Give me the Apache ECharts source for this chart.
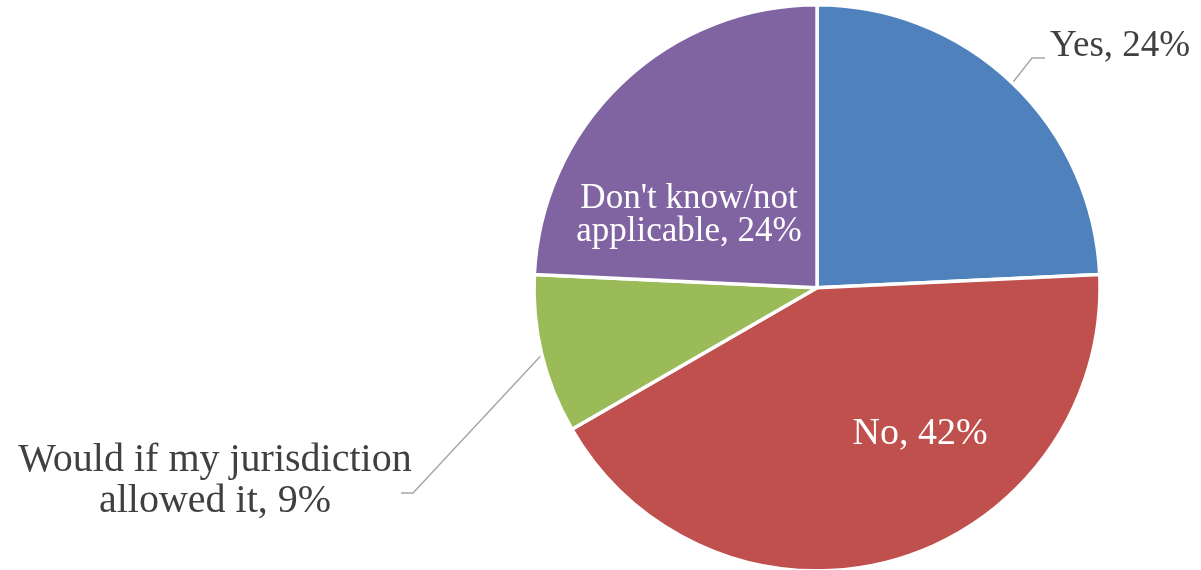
<!DOCTYPE html>
<html>
<head>
<meta charset="utf-8">
<script src="https://cdn.jsdelivr.net/npm/echarts@6/dist/echarts.min.js"></script>
<style>
html,body{margin:0;padding:0;background:#fff;}
#chart{width:1201px;height:570px;}
</style>
</head>
<body>
<div id="chart"></div>
<script>
var categories = ['Yes', 'No', 'Would if my jurisdiction\nallowed it', "Don't know/not\napplicable"];
var values = [24, 42, 9, 24];
var colors = ['#4F81BD', '#C0504D', '#9BBB59', '#8064A2'];

var labelStyles = [
  {position: 'outside', color: '#404040', fontSize: 37, lineHeight: 38},
  {position: 'inside', color: '#ffffff', fontSize: 38, lineHeight: 38},
  {position: 'outside', color: '#404040', fontSize: 40, lineHeight: 41},
  {position: 'inside', color: '#ffffff', fontSize: 35, lineHeight: 33}
];
// label placement (layout only)
var labelPlace = [
  {x: 1050, y: 46, align: 'left', line: [[1032, 58], [1045, 58]]},
  {x: 920, y: 434, align: 'center'},
  {x: 215, y: 481, align: 'center', line: [[413, 493], [401, 493]]},
  {x: 689, y: 215, align: 'center'}
];

var data = categories.map(function (name, i) {
  return {
    name: name,
    value: values[i],
    itemStyle: {color: colors[i]},
    label: {
      position: labelStyles[i].position,
      color: labelStyles[i].color,
      fontSize: labelStyles[i].fontSize,
      lineHeight: labelStyles[i].lineHeight
    }
  };
});

var chart = echarts.init(document.getElementById('chart'), null, {renderer: 'canvas'});
chart.setOption({
  animation: false,
  backgroundColor: '#ffffff',
  series: [{
    type: 'pie',
    center: ['68.03%', '50.5%'],
    radius: 283,
    startAngle: 90,
    clockwise: true,
    avoidLabelOverlap: false,
    itemStyle: {borderColor: '#ffffff', borderWidth: 3.5},
    label: {
      show: true,
      fontFamily: 'Liberation Serif',
      formatter: '{b}, {c}%'
    },
    labelLine: {
      show: true,
      lineStyle: {color: '#a6a6a6', width: 1.4}
    },
    labelLayout: function (params) {
      var p = labelPlace[params.dataIndex];
      var res = {x: p.x, y: p.y, align: p.align, verticalAlign: 'middle'};
      if (p.line && params.labelLinePoints) {
        res.labelLinePoints = [params.labelLinePoints[0], p.line[0], p.line[1]];
      }
      return res;
    },
    data: data
  }]
});
</script>
</body>
</html>
